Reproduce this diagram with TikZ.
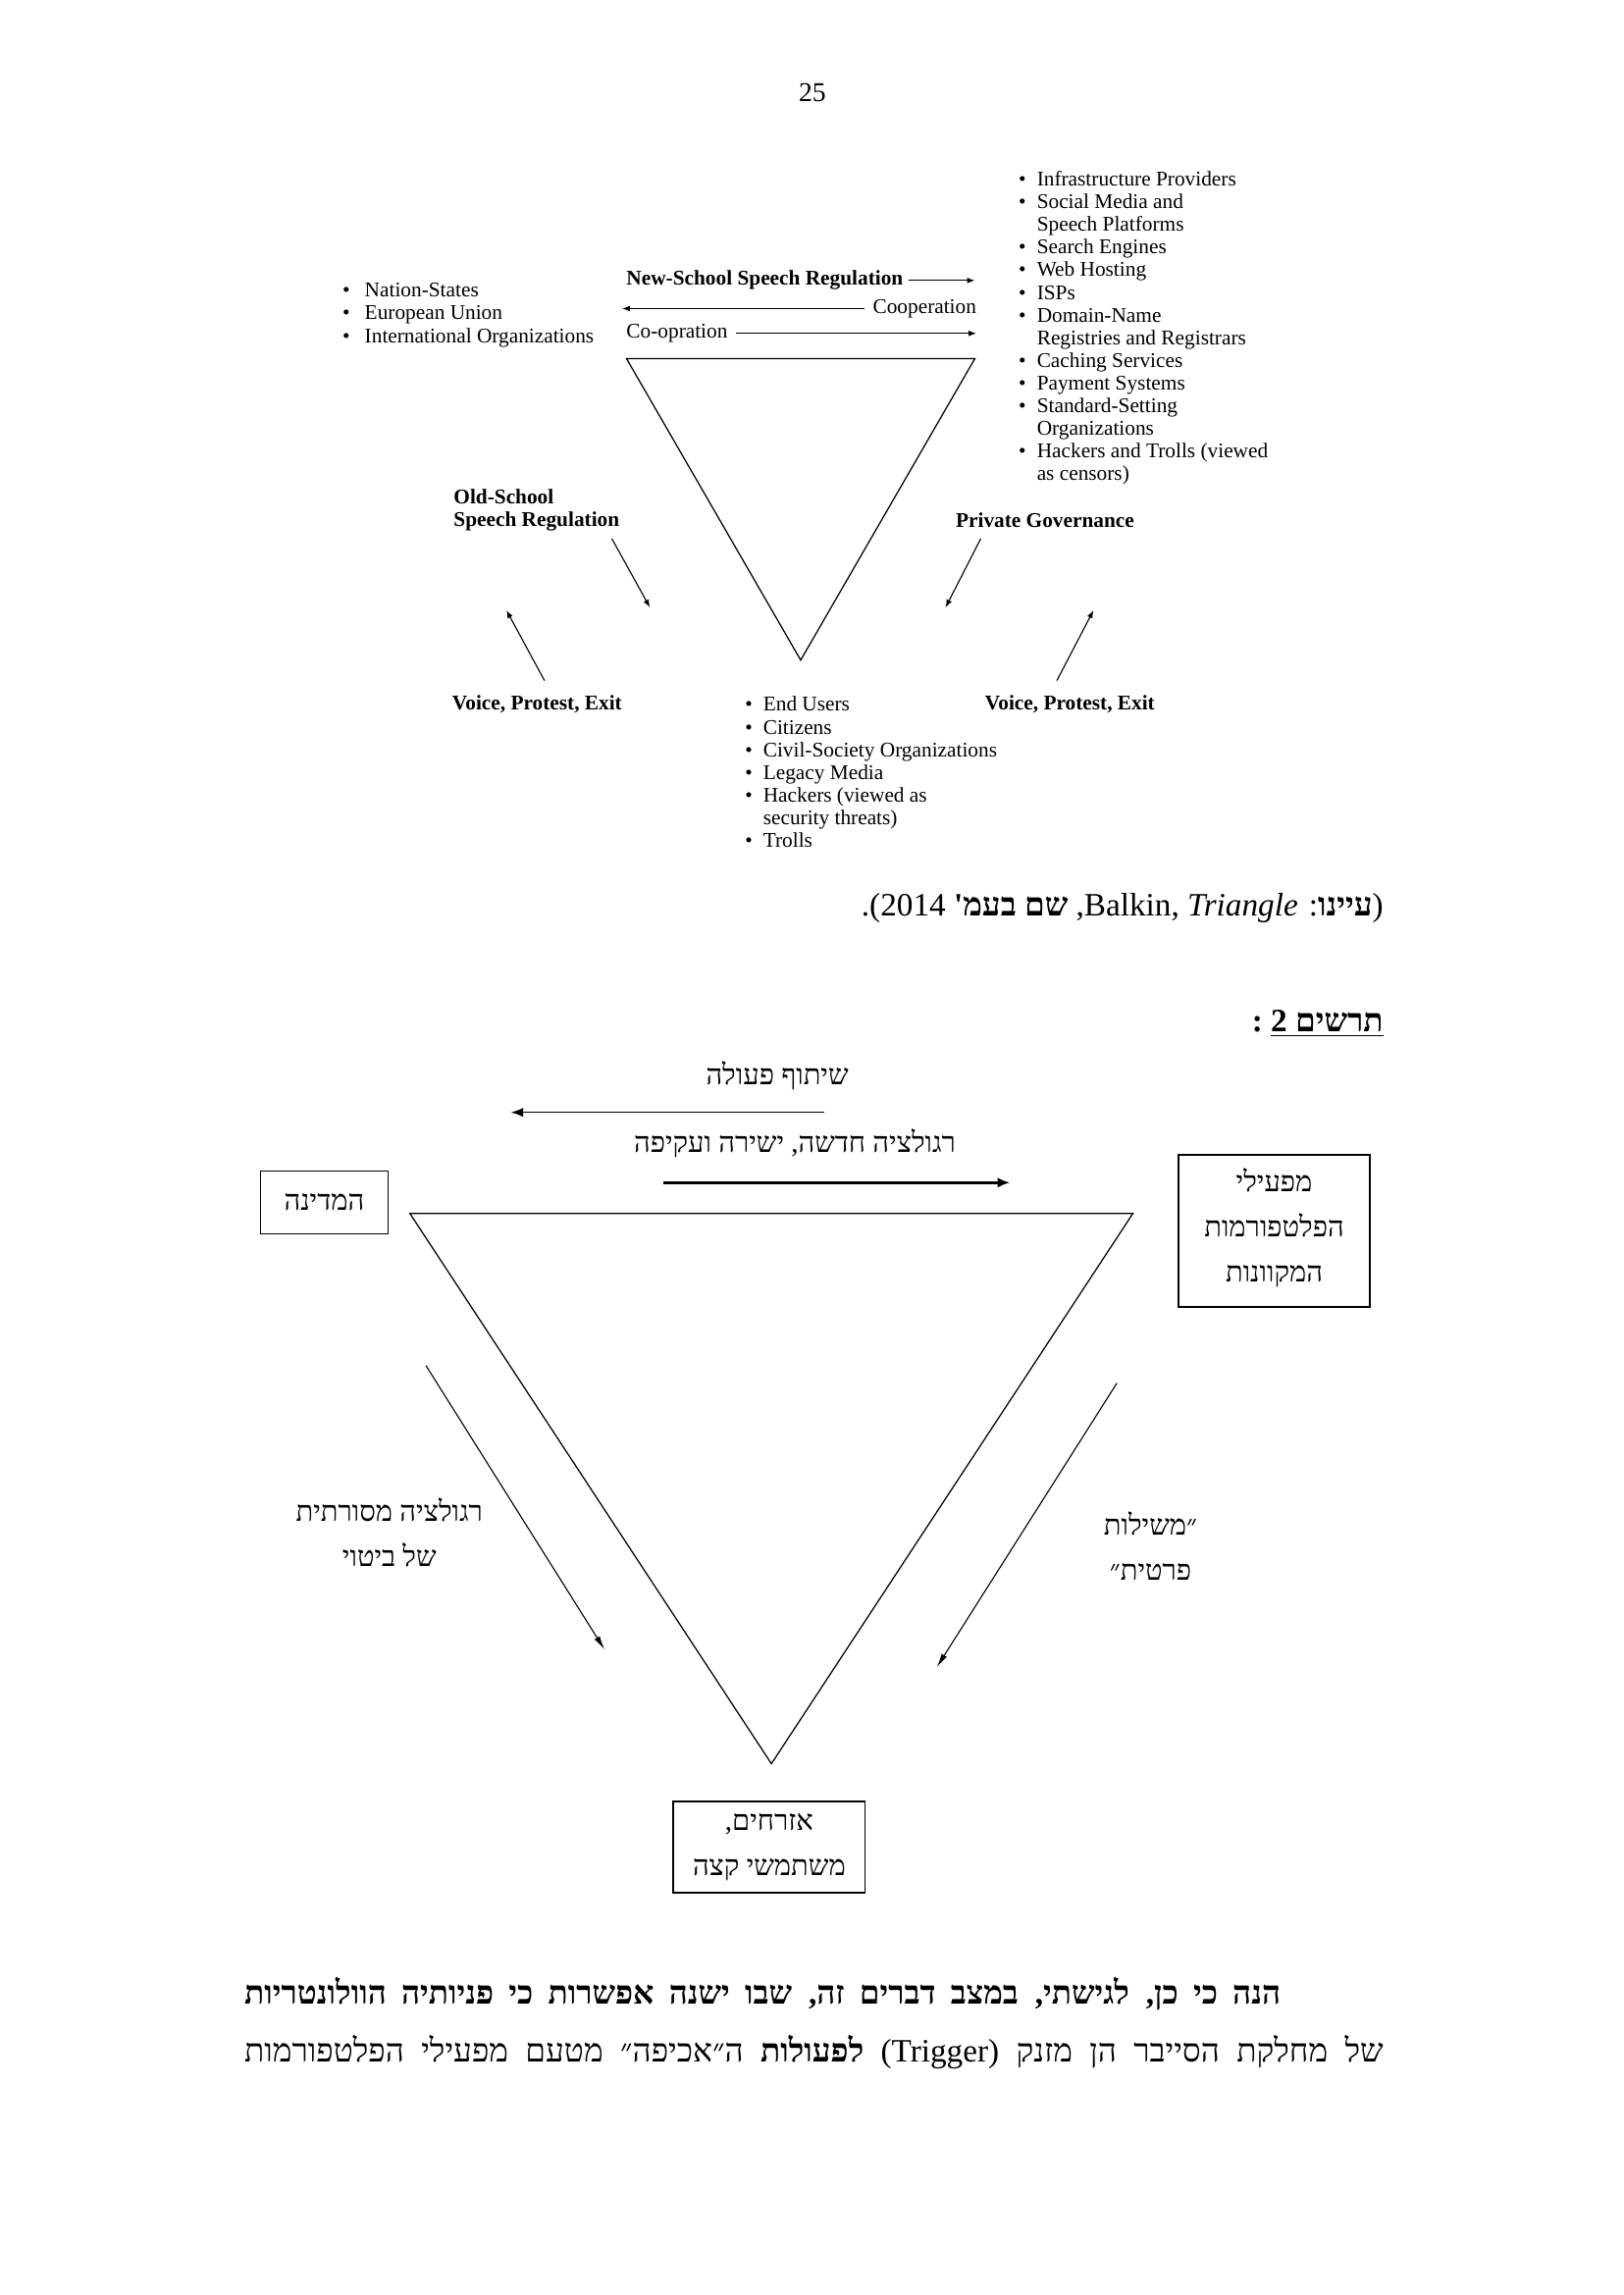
\documentclass[tikz,border=0pt]{standalone}
\usepackage{fontspec}
\setmainfont{Liberation Serif}
\newfontfamily\hebfont[Script=Hebrew]{Liberation Serif}
\TeXXeTstate=1
\usetikzlibrary{arrows.meta}

\newcommand{\rl}[1]{\beginR #1\endR} % one right-to-left line
\newcommand{\bul}{\textbullet}

\tikzset{
  every node/.style={inner sep=0pt, outer sep=0pt},
  figsmall/.style={font=\fontsize{7.7}{8.35}\selectfont},
  figbold/.style={font=\fontsize{7.7}{8.6}\selectfont\bfseries},
  hebtext/.style={font=\fontsize{10.5}{16.6}\selectfont\hebfont, align=center},
  hebbox/.style={hebtext, draw, line width=0.6pt},
  hebline/.style={font=\fontsize{12}{15}\selectfont\hebfont},
  hebbold/.style={font=\fontsize{12}{15}\selectfont\hebfont\bfseries},
  smallarrow/.style={line width=0.4pt, -{Latex[length=1mm, width=0.75mm]}},
  hebarrow/.style={line width=0.5pt, -{Latex[length=1.6mm, width=1.2mm]}},
  fatarrow/.style={line width=1.1pt, -{Latex[length=1.6mm, width=1.3mm]}},
  slimarrow/.style={line width=0.4pt, -{Latex[length=1.8mm, width=0.8mm]}},
}

\begin{document}
\begin{tikzpicture}[x=0.18936mm, y=-0.18936mm]
  \useasboundingbox (0,0) rectangle (1109,1568); % A4 page
  \node[font=\fontsize{10}{12}\selectfont] (pagenum) at (555,63) {25};

  % --- upper figure ---
  \node[figsmall, anchor=base west] (states) at (234,203) {\begin{tabular}[t]{@{}l@{\hspace{5.5pt}}l@{}}
    \bul & Nation-States\\
    \bul & European Union\\
    \bul & International Organizations
  \end{tabular}};
  \node[figsmall, anchor=base west] (platforms) at (696,127) {\begin{tabular}[t]{@{}l@{\hspace{4pt}}l@{}}
    \bul & Infrastructure Providers\\
    \bul & Social Media and\\
         & Speech Platforms\\
    \bul & Search Engines\\
    \bul & Web Hosting\\
    \bul & ISPs\\
    \bul & Domain-Name\\
         & Registries and Registrars\\
    \bul & Caching Services\\
    \bul & Payment Systems\\
    \bul & Standard-Setting\\
         & Organizations\\
    \bul & Hackers and Trolls (viewed\\
         & as censors)
  \end{tabular}};
  \node[figsmall, anchor=base west] (users) at (509,486) {\begin{tabular}[t]{@{}l@{\hspace{4pt}}l@{}}
    \bul & End Users\\
    \bul & Citizens\\
    \bul & Civil-Society Organizations\\
    \bul & Legacy Media\\
    \bul & Hackers (viewed as\\
         & security threats)\\
    \bul & Trolls
  \end{tabular}};

  \node[figbold, anchor=base west] (newschool) at (428,195) {New-School Speech Regulation};
  \node[figsmall, anchor=base east] (coop) at (667,214) {Cooperation};
  \node[figsmall, anchor=base west] (cooption) at (428,231) {Co-opration};
  \coordinate (nsend) at (666,191);
  \coordinate (coopend) at (425,211);
  \coordinate (cooptend) at (667,228);
  \draw[smallarrow] ([xshift=2pt]newschool.east) -- (newschool.east -| nsend);
  \draw[smallarrow] ([xshift=-3pt]coop.west) -- (coop.west -| coopend);
  \draw[smallarrow] ([xshift=3pt]cooption.east) -- (cooption.east -| cooptend);

  \coordinate (ta) at (428,245);
  \coordinate (tb) at (666,245);
  \coordinate (tc) at (547,451);
  \draw[line width=0.45pt] (ta) -- (tb) -- (tc) -- cycle; % triangle

  \node[figbold, anchor=base west] (oldschool) at (310,344) {\begin{tabular}[t]{@{}l@{}}Old-School\\ Speech Regulation\end{tabular}};
  \node[figbold, anchor=base west] (privgov) at (653,360) {Private Governance};
  \node[figbold, anchor=base west] (voiceL) at (309,485) {Voice, Protest, Exit};
  \node[figbold, anchor=base west] (voiceR) at (673,485) {Voice, Protest, Exit};
  \coordinate (osa) at (418,368);
  \coordinate (osb) at (444,415);
  \coordinate (vla) at (372,465);
  \coordinate (vlb) at (346,417);
  \coordinate (pga) at (670,368);
  \coordinate (pgb) at (646,415);
  \coordinate (vra) at (722,465);
  \coordinate (vrb) at (747,417);
  \draw[smallarrow] (osa) -- (osb);
  \draw[smallarrow] (vla) -- (vlb);
  \draw[smallarrow] (pga) -- (pgb);
  \draw[smallarrow] (vra) -- (vrb);

  % --- source and title ---
  \node[hebline, anchor=base east] (source) at (945,626)
    {\rl{(\textbf{עיינו}: \beginL Balkin, \textit{Triangle}\endL, \textbf{שם בעמ'} \beginL 2014\endL).}};
  \node[hebbold, anchor=base east] (figtitle) at (945,705) {\rl{\underline{\rl{תרשים 2}} :}};

  % --- lower figure ---
  \node[hebtext] (cooplabel) at (531,735) {\rl{שיתוף פעולה}};
  \node[hebtext] (newreg) at (543,781) {\rl{רגולציה חדשה, ישירה ועקיפה}};
  \coordinate (coopR) at (563,760);
  \coordinate (coopL) at (349,760);
  \coordinate (newregL) at (453,808);
  \coordinate (newregR) at (690,808);
  \draw[hebarrow] (coopR) -- (coopL);
  \draw[fatarrow] (newregL) -- (newregR);

  \node[hebbox, minimum width=16.5mm, minimum height=8.14mm] (state) at (221.5,821.5) {\rl{המדינה}};
  \node[hebbox, minimum width=24.8mm, minimum height=19.7mm] (operators) at (870.5,841)
    {\rl{מפעילי}\\ \rl{הפלטפורמות}\\ \rl{המקוונות}\\[-12pt]};
  \node[hebbox, minimum width=24.8mm, minimum height=11.74mm] (citizens) at (525.5,1262)
    {\rl{אזרחים,}\\ \rl{משתמשי קצה}};

  \coordinate (ua) at (280,829);
  \coordinate (ub) at (774,829);
  \coordinate (uc) at (527,1205);
  \draw[line width=0.45pt] (ua) -- (ub) -- (uc) -- cycle; % triangle

  \node[hebtext] (oldreg) at (266,1047) {\rl{רגולציה מסורתית}\\ \rl{של ביטוי}};
  \node[hebtext] (privreg) at (786,1056.5) {\rl{״משילות}\\ \rl{פרטית״}};
  \coordinate (lda) at (291,933);
  \coordinate (ldb) at (413,1127);
  \coordinate (rda) at (763,945);
  \coordinate (rdb) at (640,1139);
  \draw[slimarrow] (lda) -- (ldb);
  \draw[slimarrow] (rda) -- (rdb);

  % --- text below ---
  \node[hebbold, anchor=base east] (para1) at (875,1369)
    {\hbox to 134.07mm{\rl{הנה כי כן, לגישתי, במצב דברים זה, שבו ישנה אפשרות כי פניותיה הוולונטריות}}};
  \node[hebline, anchor=base east] (para2) at (945,1409)
    {\hbox to 147.32mm{\rl{של מחלקת הסייבר הן מזנק \beginL(Trigger)\endL{} \textbf{לפעולות} ה״אכיפה״ מטעם מפעילי הפלטפורמות}}};
\end{tikzpicture}
\end{document}
